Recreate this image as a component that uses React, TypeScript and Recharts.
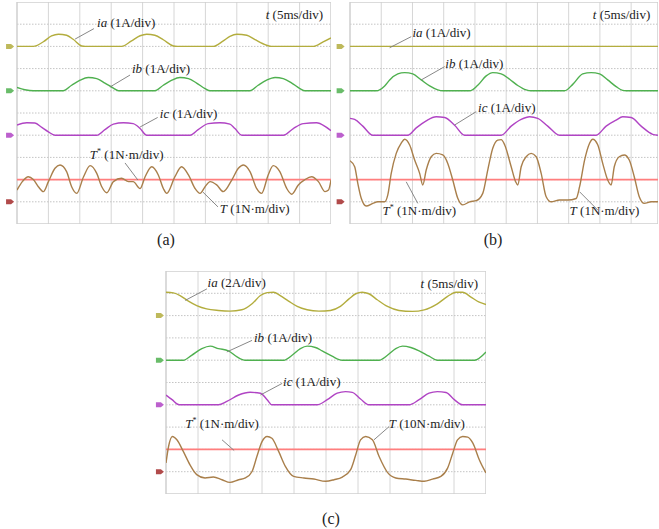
import React from 'react';
import { LineChart, Line, XAxis, YAxis, ReferenceLine, ReferenceDot } from 'recharts';

// time in divisions (5 ms/div), level in divisions from the bottom of the screen
type Pt = [number, number];

const gridDivs = [1, 2, 3, 4, 5, 6, 7, 8, 9];

// ---- (a)
const aIa: Pt[] = [[0, 8], [0.52, 8], [0.84, 8.21], [1.1, 8.47], [1.32, 8.55], [1.58, 8.5], [1.79, 8.32], [2.06, 8.02], [2.17, 8], [3.33, 8], [3.65, 8.25], [3.92, 8.48], [4.13, 8.55], [4.39, 8.5], [4.66, 8.3], [4.98, 8.02], [5.1, 8], [6.25, 8], [6.57, 8.25], [6.78, 8.45], [7.0, 8.55], [7.32, 8.5], [7.58, 8.3], [7.95, 8.05], [8.11, 8], [9.44, 8], [9.75, 8.2], [10, 8.38]];
const aIb: Pt[] = [[0, 6.15], [0.25, 6.05], [0.52, 6], [1.47, 6], [1.74, 6.25], [2.01, 6.48], [2.27, 6.6], [2.54, 6.55], [2.8, 6.35], [3.07, 6.12], [3.23, 6], [4.39, 6], [4.66, 6.25], [4.93, 6.48], [5.19, 6.6], [5.46, 6.55], [5.72, 6.35], [5.99, 6.1], [6.15, 6], [7.42, 6], [7.68, 6.25], [7.95, 6.48], [8.22, 6.6], [8.48, 6.55], [8.75, 6.35], [9.01, 6.1], [9.17, 6], [10, 6]];
const aIc: Pt[] = [[0, 4.46], [0.31, 4.56], [0.57, 4.55], [0.79, 4.35], [1.0, 4.15], [1.21, 4], [2.54, 4], [2.8, 4.25], [3.07, 4.5], [3.39, 4.56], [3.7, 4.52], [3.92, 4.3], [4.13, 4], [5.51, 4], [5.77, 4.25], [6.09, 4.52], [6.46, 4.56], [6.78, 4.5], [6.94, 4.3], [7.16, 4], [8.48, 4], [8.8, 4.3], [9.12, 4.52], [9.54, 4.56], [9.81, 4.4], [10, 4.2]];
const aTref: Pt[] = [[0, 2], [10, 2]];
const aT: Pt[] = [[0, 1.53], [0.17, 1.91], [0.36, 2.13], [0.52, 2.0], [0.68, 1.68], [0.84, 1.46], [1.0, 1.91], [1.21, 2.51], [1.37, 2.66], [1.58, 2.36], [1.74, 1.68], [1.9, 1.38], [2.12, 2.13], [2.33, 2.63], [2.54, 2.28], [2.7, 1.68], [2.86, 1.41], [3.07, 1.91], [3.33, 2.06], [3.55, 1.91], [3.7, 1.91], [3.92, 1.6], [4.08, 2.13], [4.29, 2.58], [4.5, 2.21], [4.66, 1.6], [4.77, 1.38], [5.03, 2.13], [5.24, 2.58], [5.46, 2.21], [5.67, 1.6], [5.83, 1.38], [5.99, 1.68], [6.15, 1.91], [6.36, 1.76], [6.57, 1.46], [6.84, 1.98], [7.05, 2.51], [7.21, 2.66], [7.42, 2.36], [7.63, 1.6], [7.79, 1.38], [8.0, 2.21], [8.16, 2.63], [8.37, 2.36], [8.59, 1.6], [8.75, 1.34], [8.96, 1.76], [9.17, 2.0], [9.38, 2.13], [9.6, 1.91], [9.81, 1.46], [9.92, 1.53], [10, 1.98]];

// ---- (b)
const bIa: Pt[] = [[0, 8], [9.86, 8]];
const bIb: Pt[] = [[0, 6], [0.84, 6], [1.11, 6.22], [1.27, 6.49], [1.53, 6.76], [1.75, 6.82], [2.01, 6.76], [2.28, 6.49], [2.55, 6.22], [2.81, 6.04], [2.97, 6], [3.83, 6], [4.09, 6.25], [4.36, 6.67], [4.57, 6.82], [4.84, 6.76], [5.11, 6.52], [5.37, 6.24], [5.64, 6.04], [5.8, 6], [6.87, 6], [7.13, 6.29], [7.45, 6.76], [7.72, 6.82], [7.99, 6.76], [8.25, 6.49], [8.52, 6.19], [8.73, 6.02], [8.84, 6], [9.86, 6]];
const bIc: Pt[] = [[0, 4.76], [0.15, 4.71], [0.41, 4.41], [0.73, 4], [1.85, 4], [2.12, 4.33], [2.44, 4.65], [2.76, 4.83], [3.03, 4.8], [3.35, 4.45], [3.67, 4], [4.84, 4], [5.16, 4.41], [5.48, 4.71], [5.75, 4.83], [6.01, 4.76], [6.33, 4.41], [6.71, 4], [7.88, 4], [8.2, 4.41], [8.52, 4.68], [8.73, 4.83], [9.0, 4.8], [9.32, 4.41], [9.69, 4.04], [9.86, 4]];
const bTref: Pt[] = [[0, 2], [9.86, 2]];
const bT: Pt[] = [[0, 2.85], [0.15, 2.58], [0.25, 1.83], [0.36, 1.16], [0.52, 0.81], [0.73, 0.93], [0.89, 1.0], [1.11, 1.0], [1.21, 1.31], [1.32, 2.28], [1.48, 3.18], [1.64, 3.64], [1.75, 3.82], [1.91, 3.56], [2.07, 2.88], [2.23, 2.28], [2.33, 1.76], [2.44, 2.43], [2.6, 3.03], [2.76, 3.18], [2.97, 3.11], [3.13, 2.73], [3.29, 1.98], [3.45, 1.16], [3.61, 0.86], [3.83, 1.0], [4.04, 1.05], [4.25, 1.38], [4.41, 2.43], [4.57, 3.41], [4.73, 3.78], [4.84, 3.8], [4.95, 3.57], [5.16, 2.58], [5.3, 1.91], [5.37, 1.76], [5.48, 2.58], [5.64, 3.03], [5.8, 3.18], [5.96, 3.03], [6.12, 2.28], [6.28, 1.23], [6.44, 1.0], [6.71, 1.08], [6.97, 1.08], [7.24, 1.15], [7.35, 1.68], [7.51, 2.88], [7.67, 3.64], [7.77, 3.82], [7.93, 3.57], [8.09, 2.73], [8.25, 1.98], [8.36, 1.76], [8.46, 2.58], [8.62, 3.03], [8.78, 3.11], [8.94, 2.88], [9.1, 2.13], [9.26, 1.23], [9.42, 0.93], [9.64, 1.0], [9.86, 1.0]];

// ---- (c)
const cIa: Pt[] = [[0, 9.05], [0.23, 9.02], [0.44, 8.9], [0.7, 8.65], [0.96, 8.45], [1.27, 8.3], [1.64, 8.23], [2.0, 8.2], [2.37, 8.26], [2.69, 8.53], [2.95, 8.9], [3.16, 9.03], [3.36, 9.05], [3.57, 8.9], [3.83, 8.65], [4.1, 8.41], [4.41, 8.26], [4.78, 8.2], [5.14, 8.23], [5.45, 8.41], [5.72, 8.75], [5.93, 8.98], [6.13, 9.05], [6.34, 8.98], [6.6, 8.71], [6.92, 8.41], [7.28, 8.23], [7.7, 8.19], [8.07, 8.26], [8.48, 8.53], [8.8, 8.86], [9.06, 9.05], [9.27, 9.05], [9.53, 8.83], [9.79, 8.6], [10, 8.5]];
const cIb: Pt[] = [[0, 6], [0.54, 6], [0.8, 6.22], [1.12, 6.52], [1.38, 6.63], [1.64, 6.52], [1.95, 6.42], [2.22, 6.15], [2.48, 6], [3.68, 6], [3.94, 6.22], [4.2, 6.52], [4.41, 6.63], [4.67, 6.57], [4.88, 6.42], [5.19, 6.18], [5.51, 6], [6.66, 6], [6.92, 6.22], [7.18, 6.52], [7.39, 6.63], [7.65, 6.57], [7.91, 6.42], [8.22, 6.18], [8.48, 6], [9.64, 6], [10, 6.37]];
const cIc: Pt[] = [[0, 4.44], [0.19, 4.23], [0.41, 4], [1.64, 4], [1.9, 4.15], [2.27, 4.44], [2.63, 4.56], [2.95, 4.52], [3.16, 4.23], [3.31, 4], [4.72, 4], [5.04, 4.23], [5.35, 4.52], [5.61, 4.59], [5.82, 4.56], [6.08, 4.26], [6.34, 4], [7.6, 4], [7.91, 4.23], [8.22, 4.52], [8.48, 4.59], [8.75, 4.55], [9.01, 4.23], [9.27, 4], [10, 4]];
const cTref: Pt[] = [[0, 2], [10, 2]];
const cT: Pt[] = [[0, 1.39], [0.08, 2.13], [0.2, 2.58], [0.34, 2.43], [0.54, 1.91], [0.75, 1.31], [0.96, 0.87], [1.22, 0.72], [1.48, 0.76], [1.75, 0.64], [2.0, 0.52], [2.27, 0.64], [2.48, 0.72], [2.69, 1.01], [2.84, 1.68], [3.0, 2.35], [3.16, 2.58], [3.31, 2.5], [3.52, 1.91], [3.73, 1.24], [3.99, 0.79], [4.31, 0.72], [4.62, 0.67], [4.99, 0.57], [5.25, 0.64], [5.51, 0.76], [5.77, 1.09], [5.93, 1.76], [6.08, 2.43], [6.24, 2.58], [6.45, 2.43], [6.66, 1.68], [6.92, 0.97], [7.18, 0.72], [7.49, 0.67], [7.81, 0.61], [8.07, 0.57], [8.33, 0.67], [8.59, 0.79], [8.8, 1.16], [8.96, 1.83], [9.11, 2.43], [9.27, 2.58], [9.43, 2.55], [9.59, 2.28], [9.79, 1.54], [10, 0.94]];

const colors = { ia: '#b3ad3e', ib: '#4fb04f', ic: '#b044c4', T: '#a97f4b', Tref: '#ff7e7e', lead: '#7a7a7a' };

interface Label {
  x: number; y: number; sym: string; star?: boolean; unit: string;
  lead?: [number, number, number, number];
}

const aLabels: Label[] = [
  { x: 2.55, y: 8.87, sym: 'ia', unit: ' (1A/div)', lead: [1.85, 8.33, 2.45, 8.8] },
  { x: 3.66, y: 6.8, sym: 'ib', unit: ' (1A/div)', lead: [2.96, 6.17, 3.6, 6.71] },
  { x: 4.55, y: 4.77, sym: 'ic', unit: ' (1A/div)', lead: [3.92, 4.37, 4.48, 4.8] },
  { x: 2.32, y: 2.93, sym: 'T', star: true, unit: ' (1N·m/div)', lead: [3.44, 2.75, 3.85, 1.98] },
  { x: 6.46, y: 0.5, sym: 'T', unit: ' (1N·m/div)', lead: [5.92, 1.44, 6.4, 0.77] },
];
const bLabels: Label[] = [
  { x: 2.0, y: 8.42, sym: 'ia', unit: ' (1A/div)', lead: [1.27, 7.94, 1.96, 8.44] },
  { x: 3.05, y: 7.03, sym: 'ib', unit: ' (1A/div)', lead: [2.28, 6.49, 3.03, 7.09] },
  { x: 4.1, y: 5.05, sym: 'ic', unit: ' (1A/div)', lead: [3.35, 4.46, 4.04, 5.06] },
  { x: 1.04, y: 0.4, sym: 'T', star: true, unit: ' (1N·m/div)', lead: [1.8, 1.9, 2.17, 0.93] },
  { x: 7.03, y: 0.4, sym: 'T', unit: ' (1N·m/div)', lead: [7.35, 1.45, 7.93, 0.63] },
];
const cLabels: Label[] = [
  { x: 1.3, y: 9.27, sym: 'ia', unit: ' (2A/div)', lead: [0.6, 8.68, 1.28, 9.2] },
  { x: 2.75, y: 6.82, sym: 'ib', unit: ' (1A/div)', lead: [1.9, 6.37, 2.69, 6.89] },
  { x: 3.66, y: 4.84, sym: 'ic', unit: ' (1A/div)', lead: [2.95, 4.44, 3.63, 4.96] },
  { x: 0.6, y: 2.96, sym: 'T', star: true, unit: ' (1N·m/div)', lead: [1.75, 2.43, 2.13, 1.95] },
  { x: 6.96, y: 2.96, sym: 'T', unit: ' (10N·m/div)', lead: [6.5, 2.43, 6.97, 3.02] },
];

const FONT = '"Liberation Serif", "Times New Roman", serif';
const MARGIN_L = 16;
const textStyle: React.CSSProperties = { fontFamily: FONT, fontSize: 13 };

interface PanelProps {
  left: number; top: number; w: number; h: number; xMax: number; markerX: number;
  ia: Pt[]; ib: Pt[]; ic: Pt[]; T: Pt[]; Tref: Pt[]; labels: Label[];
}

const toData = (pts: Pt[]) => pts.map(([t, v]) => ({ t, v }));

function Panel(p: PanelProps) {
  const series: [Pt[], string, number][] = [[p.Tref, colors.Tref, 1.7], [p.ia, colors.ia, 1.4], [p.ib, colors.ib, 1.4], [p.ic, colors.ic, 1.4], [p.T, colors.T, 1.4]];
  const markers: [number, string][] = [[8, colors.ia], [6, colors.ib], [4, colors.ic], [1, '#a32a2a']];
  return (
    <div style={{ position: 'absolute', left: p.left - MARGIN_L, top: p.top }}>
      <LineChart width={p.w + MARGIN_L} height={p.h} margin={{ top: 0, right: 0, bottom: 0, left: MARGIN_L }}>
        <XAxis type="number" dataKey="t" domain={[0, p.xMax]} hide allowDataOverflow />
        <YAxis type="number" domain={[0, 10]} hide allowDataOverflow />
        {gridDivs.map((d) => (
          <ReferenceLine key={'v' + d} x={d} stroke="#d6d6d6" strokeWidth={1} />
        ))}
        {gridDivs.map((d) => (
          <ReferenceLine key={'h' + d} y={d} stroke="#c4c4c4" strokeWidth={1} strokeDasharray="1.5 1.5" />
        ))}
        <ReferenceLine x={0} stroke="#cfcfcf" strokeWidth={1.5} />
        <ReferenceLine x={p.xMax} stroke="#cfcfcf" strokeWidth={1.5} />
        <ReferenceLine y={0} stroke="#cfcfcf" strokeWidth={1.5} />
        <ReferenceLine y={10} stroke="#cfcfcf" strokeWidth={1.5} />
        {series.map(([pts, c, sw], i) => (
          <Line key={i} data={toData(pts)} dataKey="v" type="monotone" stroke={c}
            strokeWidth={sw} dot={false} isAnimationActive={false} />
        ))}
        {p.labels.map((l, i) => l.lead && (
          <ReferenceLine key={'l' + i} segment={[{ x: l.lead[0], y: l.lead[1] }, { x: l.lead[2], y: l.lead[3] }]}
            stroke={colors.lead} strokeWidth={0.9} ifOverflow="visible" />
        ))}
        {p.labels.map((l, i) => (
          <ReferenceDot key={'t' + i} x={l.x} y={l.y} ifOverflow="visible"
            shape={(s: any) => (
              <text x={s.cx} y={s.cy} style={textStyle} fill="#222">
                <tspan fontStyle="italic">{l.sym}</tspan>
                {l.star ? <tspan fontSize={8} dy={-5}>*</tspan> : null}
                <tspan dy={l.star ? 5 : 0}>{l.unit}</tspan>
              </text>
            )} />
        ))}
        <ReferenceDot x={p.xMax * 0.975} y={9.22} ifOverflow="visible"
          shape={(s: any) => (
            <text x={s.cx} y={s.cy} style={textStyle} fill="#222" textAnchor="end">
              <tspan fontStyle="italic">t</tspan> (5ms/div)
            </text>
          )} />
        {markers.map(([lv, c], i) => (
          <ReferenceDot key={'m' + i} x={p.markerX} y={lv} ifOverflow="visible"
            shape={(s: any) => (
              <polygon points={`${s.cx - 4},${s.cy - 2.5} ${s.cx + 1},${s.cy - 2.5} ${s.cx + 4},${s.cy} ${s.cx + 1},${s.cy + 2.5} ${s.cx - 4},${s.cy + 2.5}`}
                fill={c} opacity={0.85} />
            )} />
        ))}
      </LineChart>
    </div>
  );
}

const captionStyle: React.CSSProperties = {
  position: 'absolute', width: 40, textAlign: 'center', fontFamily: FONT, fontSize: 16, lineHeight: '18px', color: '#222',
};

export default function App() {
  return (
    <div style={{ position: 'absolute', left: 0, top: 0, width: 659, height: 529, overflow: 'hidden', background: '#fff' }}>
      <Panel left={17} top={2} w={314} h={222} xMax={10} markerX={-0.22}
        ia={aIa} ib={aIb} ic={aIc} T={aT} Tref={aTref} labels={aLabels} />
      <Panel left={350} top={2} w={308} h={222} xMax={9.86} markerX={-0.3}
        ia={bIa} ib={bIb} ic={bIc} T={bT} Tref={bTref} labels={bLabels} />
      <Panel left={166} top={271} w={320} h={223} xMax={10} markerX={-0.19}
        ia={cIa} ib={cIb} ic={cIc} T={cT} Tref={cTref} labels={cLabels} />
      <div style={{ ...captionStyle, left: 146, top: 231 }}>(a)</div>
      <div style={{ ...captionStyle, left: 473, top: 231 }}>(b)</div>
      <div style={{ ...captionStyle, left: 311, top: 510 }}>(c)</div>
    </div>
  );
}
